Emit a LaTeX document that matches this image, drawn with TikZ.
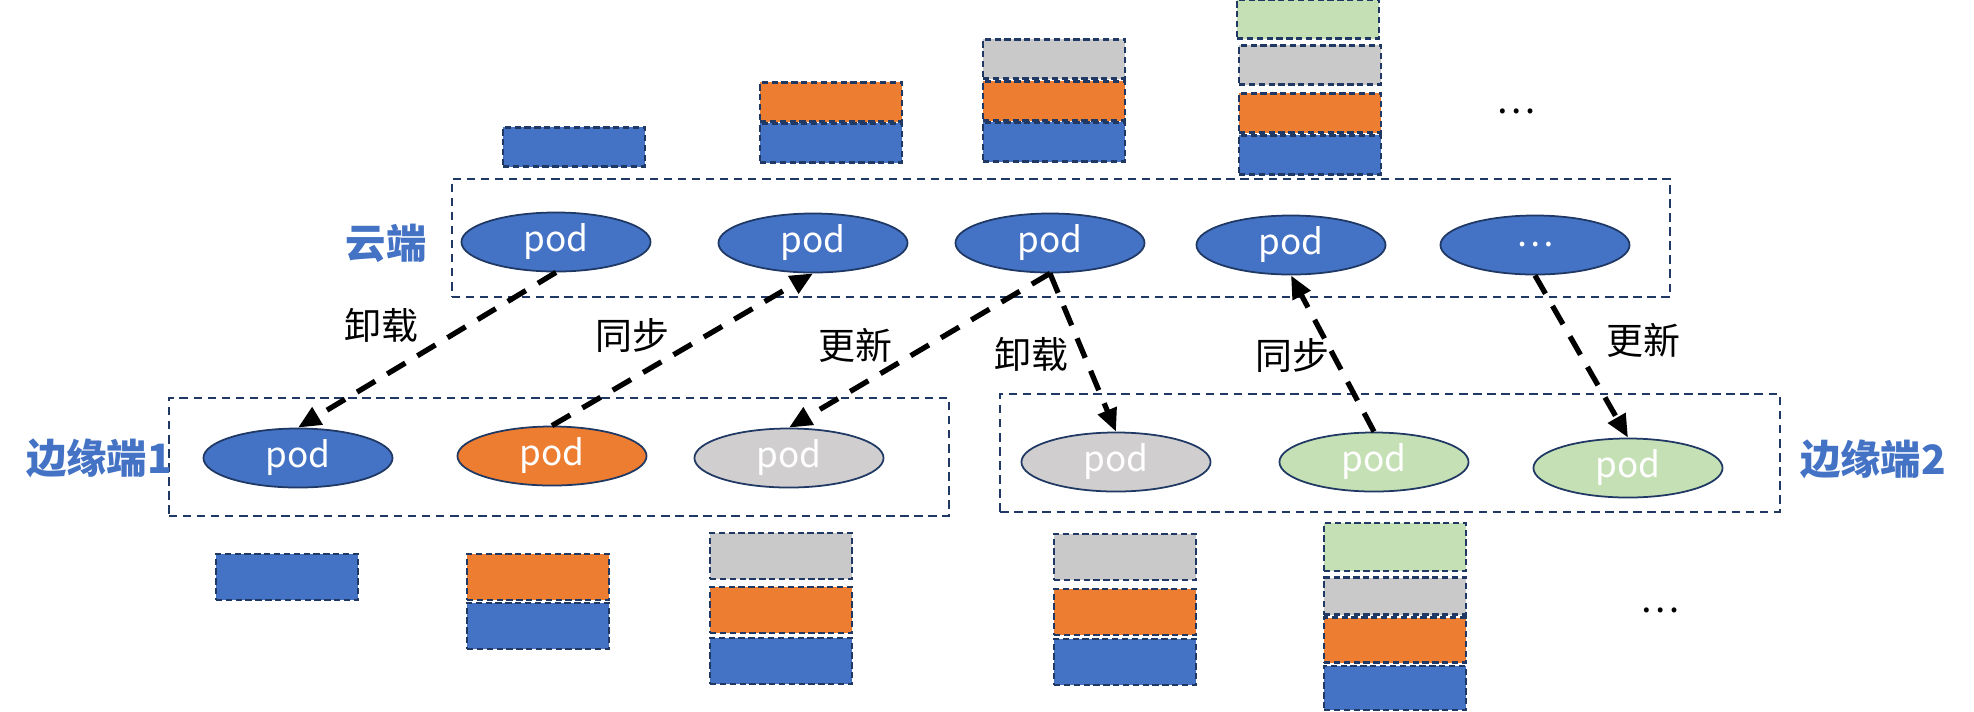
\documentclass[tikz,border=0pt]{standalone}
\usepackage{fontspec}
\newfontfamily\cjk{Noto Sans CJK SC}
\usetikzlibrary{shapes.geometric,arrows.meta}
\definecolor{podblue}{HTML}{4472C4}
\definecolor{podorange}{HTML}{ED7D31}
\definecolor{podgray}{HTML}{D0CECE}
\definecolor{laygray}{HTML}{C9C9C9}
\definecolor{podgreen}{HTML}{C5E0B4}
\definecolor{navy}{HTML}{1F3864}

\begin{document}
\begin{tikzpicture}[x=0.01cm,y=-0.01cm,
  pod/.style={ellipse,draw=navy,line width=0.5pt,fill=#1,minimum width=1.89cm,minimum height=0.59cm,inner sep=0pt,text=white,font=\cjk\fontsize{10}{10}\selectfont},
  layer/.style={draw=navy,line width=0.6pt,dash pattern=on 1.8pt off 1pt,fill=#1,minimum width=1.42cm,minimum height=0.39cm,inner sep=0pt},
  zone/.style={draw=navy,line width=0.6pt,dash pattern=on 2.4pt off 1.6pt,inner sep=0pt},
  flow/.style={line width=1.5pt,dash pattern=on 6pt off 4pt,-{Triangle[length=6.5pt,width=5.5pt]}},
  tag/.style={font=\cjk\fontsize{10.5}{12}\selectfont},
  site/.style={text=podblue,font=\cjk\bfseries\fontsize{11.5}{13}\selectfont}]
\useasboundingbox (0,0) rectangle (1974,711);

% groups
\node[zone,minimum width=12.18cm,minimum height=1.18cm] (cloud) at (1061,238) {};
\node[zone,minimum width=7.80cm,minimum height=1.18cm] (edgeA) at (559,457) {};
\node[zone,minimum width=7.79cm,minimum height=1.18cm] (edgeB) at (1390,453) {};
\node[site] (cloudtag) at (386,243) {云端};
\node[site] (edgeAtag) at (99,458) {边缘端1};
\node[site] (edgeBtag) at (1873,459) {边缘端2};

% pods
\node[pod=podblue] (c1) at (556,242) {pod};
\node[pod=podblue] (c2) at (813,243) {pod};
\node[pod=podblue] (c3) at (1050,243) {pod};
\node[pod=podblue] (c4) at (1291,245) {pod};
\node[pod=podblue] (c5) at (1535,245) {…};
\node[pod=podblue] (a1) at (298,458) {pod};
\node[pod=podorange] (a2) at (552,456) {pod};
\node[pod=podgray] (a3) at (789,458) {pod};
\node[pod=podgray] (b1) at (1116,462) {pod};
\node[pod=podgreen] (b2) at (1374,462) {pod};
\node[pod=podgreen] (b3) at (1628,468) {pod};

% image layers, cloud side
\node[layer=podblue] (t1a) at (574,147) {};
\node[layer=podorange] (t2b) at (831,102) {};
\node[layer=podblue] (t2a) at (831,143) {};
\node[layer=laygray] (t3c) at (1054,59) {};
\node[layer=podorange] (t3b) at (1054,101) {};
\node[layer=podblue] (t3a) at (1054,142) {};
\node[layer=podgreen] (t4d) at (1308,19) {};
\node[layer=laygray] (t4c) at (1310,65) {};
\node[layer=podorange] (t4b) at (1310,113) {};
\node[layer=podblue] (t4a) at (1310,155) {};
\node[tag] (tmore) at (1516,111) {…};

% image layers, edge side
\node[layer=podblue,minimum height=0.46cm] (u1a) at (287,577) {};
\node[layer=podorange,minimum height=0.46cm] (u2b) at (538,577) {};
\node[layer=podblue,minimum height=0.46cm] (u2a) at (538,626) {};
\node[layer=laygray,minimum height=0.46cm] (u3c) at (781,556) {};
\node[layer=podorange,minimum height=0.46cm] (u3b) at (781,610) {};
\node[layer=podblue,minimum height=0.46cm] (u3a) at (781,661) {};
\node[layer=laygray,minimum height=0.46cm] (v1c) at (1125,557) {};
\node[layer=podorange,minimum height=0.46cm] (v1b) at (1125,612) {};
\node[layer=podblue,minimum height=0.46cm] (v1a) at (1125,662) {};
\node[layer=podgreen,minimum height=0.48cm] (v2d) at (1395,547) {};
\node[layer=laygray,minimum height=0.37cm] (v2c) at (1395,596) {};
\node[layer=podorange,minimum height=0.45cm] (v2b) at (1395,640) {};
\node[layer=podblue,minimum height=0.44cm] (v2a) at (1395,688) {};
\node[tag] (vmore) at (1660,610) {…};

% flows
\draw[flow] (c1.south) -- (a1.north);
\draw[flow] (a2.north) -- (c2.south);
\draw[flow] (c3.south) -- (a3.north);
\draw[flow] (c3.south) -- (b1.north);
\draw[flow] (b2.north) -- (c4.south);
\draw[flow] (c5.south) -- (b3.north);
\node[tag] (l1) at (381,325) {卸载};
\node[tag] (l2) at (632,335) {同步};
\node[tag] (l3) at (855,345) {更新};
\node[tag] (l4) at (1031,354) {卸载};
\node[tag] (l5) at (1292,355) {同步};
\node[tag] (l6) at (1643,340) {更新};
\end{tikzpicture}
\end{document}
